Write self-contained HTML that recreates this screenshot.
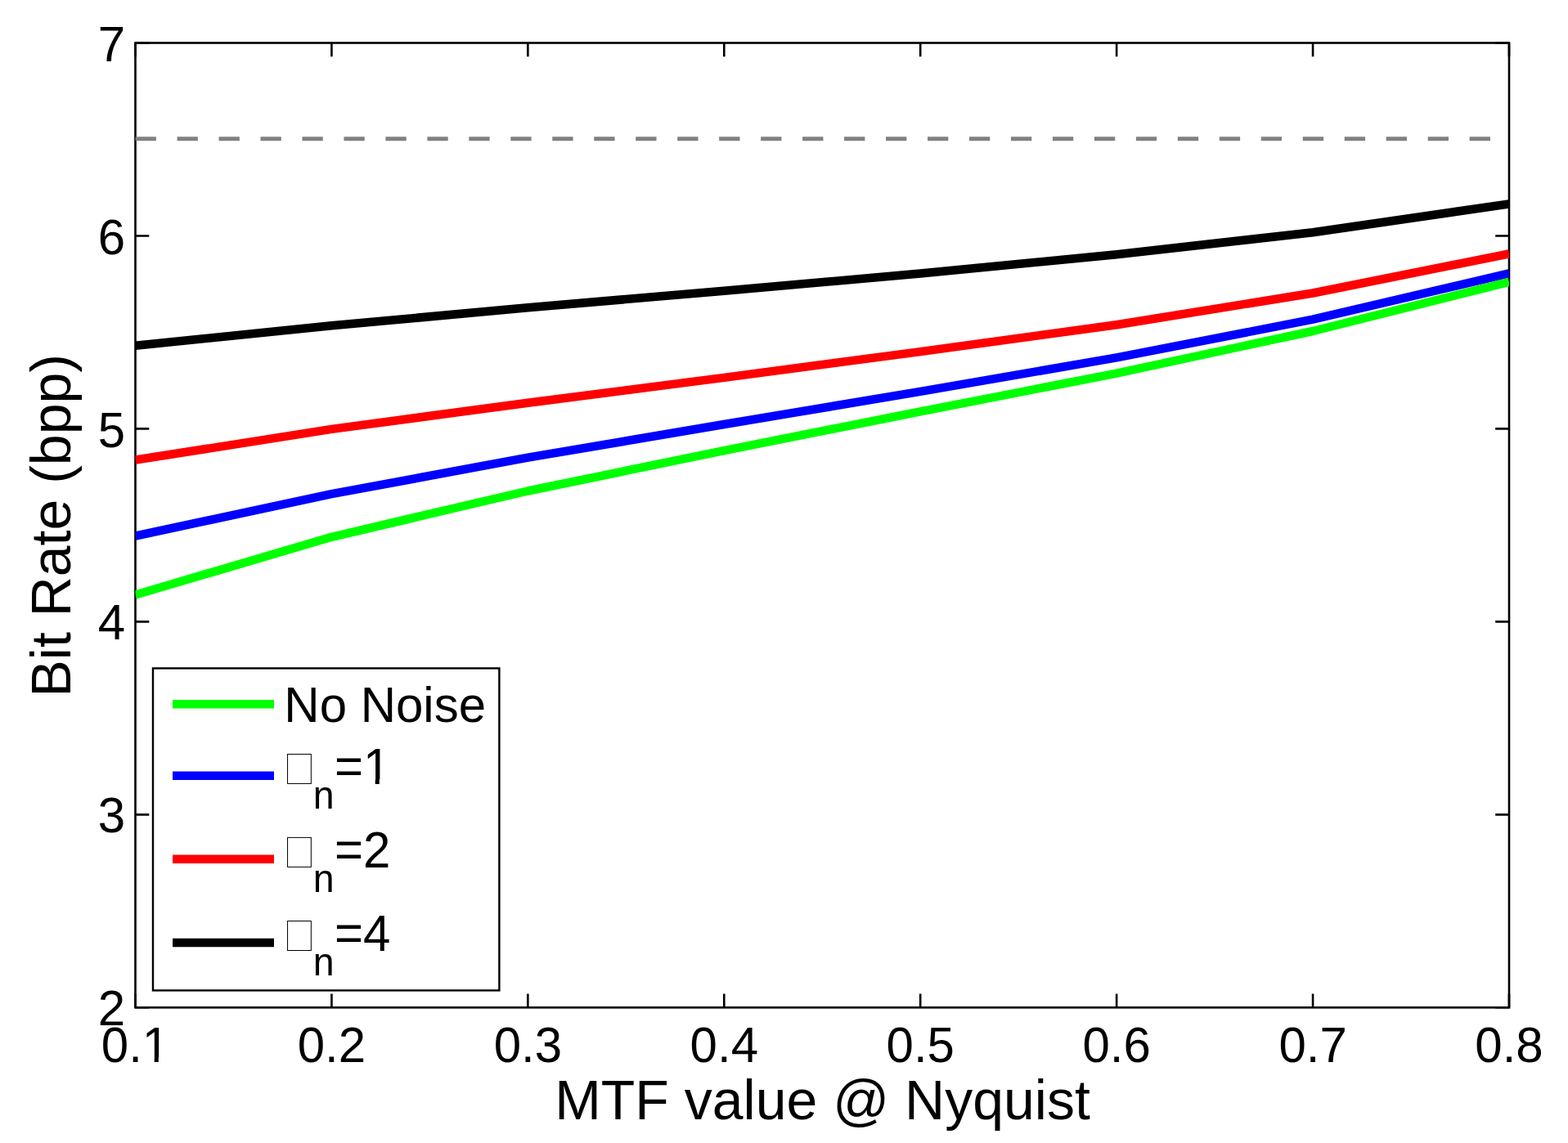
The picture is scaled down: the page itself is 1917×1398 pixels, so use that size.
<!DOCTYPE html>
<html><head><meta charset="utf-8"><title>Bit Rate vs MTF value</title>
<style>
html,body{margin:0;padding:0;background:#fff;}
body{width:1917px;height:1398px;overflow:hidden;}
svg{display:block;}
text{font-family:"Liberation Sans", sans-serif;fill:#000;}
</style></head><body>
<svg width="1917" height="1398" viewBox="0 0 1917 1398">
<rect x="0" y="0" width="1917" height="1398" fill="#fff"/>

<rect x="165.5" y="52.5" width="1679.5" height="1179.8" fill="none" stroke="#000" stroke-width="2.6"/>
<path d="M165.50,1232.3V1215.50M165.50,52.5V69.30M405.43,1232.3V1215.50M405.43,52.5V69.30M645.36,1232.3V1215.50M645.36,52.5V69.30M885.29,1232.3V1215.50M885.29,52.5V69.30M1125.21,1232.3V1215.50M1125.21,52.5V69.30M1365.14,1232.3V1215.50M1365.14,52.5V69.30M1605.07,1232.3V1215.50M1605.07,52.5V69.30M1845.00,1232.3V1215.50M1845.00,52.5V69.30M165.5,1232.30H182.30M1845.0,1232.30H1828.20M165.5,996.34H182.30M1845.0,996.34H1828.20M165.5,760.38H182.30M1845.0,760.38H1828.20M165.5,524.42H182.30M1845.0,524.42H1828.20M165.5,288.46H182.30M1845.0,288.46H1828.20M165.5,52.50H182.30M1845.0,52.50H1828.20" fill="none" stroke="#000" stroke-width="2.6"/>
<line x1="165.6" y1="169.7" x2="1845.0" y2="169.7" stroke="#808080" stroke-width="5" stroke-dasharray="25.3 25.67"/>
<defs><clipPath id="plotbox" clipPathUnits="userSpaceOnUse"><rect x="165.5" y="52.5" width="1679.5" height="1179.8"/></clipPath></defs>
<g clip-path="url(#plotbox)">
<polyline points="165.50,422.70 405.43,398.30 645.36,376.30 885.29,355.70 1125.21,334.60 1365.14,311.30 1605.07,284.20 1845.00,249.40" fill="none" stroke="#000000" stroke-width="10.5" stroke-linejoin="round"/>
<polyline points="165.50,562.60 405.43,524.90 645.36,492.70 885.29,461.90 1125.21,430.10 1365.14,397.30 1605.07,358.50 1845.00,310.40" fill="none" stroke="#ff0000" stroke-width="10.5" stroke-linejoin="round"/>
<polyline points="165.50,655.60 405.43,604.20 645.36,559.70 885.29,519.00 1125.21,478.90 1365.14,437.40 1605.07,390.70 1845.00,334.30" fill="none" stroke="#0000ff" stroke-width="10.5" stroke-linejoin="round"/>
<polyline points="165.50,727.50 405.43,656.80 645.36,600.50 885.29,551.10 1125.21,503.40 1365.14,456.60 1605.07,405.00 1845.00,344.90" fill="none" stroke="#00ff00" stroke-width="10.5" stroke-linejoin="round"/>
</g>
<defs><clipPath id="nofoot1" clipPathUnits="userSpaceOnUse"><path clip-rule="evenodd" d="M0,0H1917V1398H0Z M176,1293.3H188.7V1300.5H176Z M193.8,1293.3H206V1300.5H193.8Z M447,953H458.7V960.5H447Z M463.8,953H476V960.5H463.8Z"/></clipPath></defs>
<g clip-path="url(#nofoot1)"><text transform="translate(165.50,1298.60) scale(1,1.02)" font-size="60" text-anchor="middle">0.1</text></g>
<text transform="translate(405.43,1298.60) scale(1,1.02)" font-size="60" text-anchor="middle">0.2</text>
<text transform="translate(645.36,1298.60) scale(1,1.02)" font-size="60" text-anchor="middle">0.3</text>
<text transform="translate(885.29,1298.60) scale(1,1.02)" font-size="60" text-anchor="middle">0.4</text>
<text transform="translate(1125.21,1298.60) scale(1,1.02)" font-size="60" text-anchor="middle">0.5</text>
<text transform="translate(1365.14,1298.60) scale(1,1.02)" font-size="60" text-anchor="middle">0.6</text>
<text transform="translate(1605.07,1298.60) scale(1,1.02)" font-size="60" text-anchor="middle">0.7</text>
<text transform="translate(1845.00,1298.60) scale(1,1.02)" font-size="60" text-anchor="middle">0.8</text>
<text transform="translate(153.10,1253.50) scale(1,1.02)" font-size="60" text-anchor="end">2</text>
<text transform="translate(153.10,1017.86) scale(1,1.02)" font-size="60" text-anchor="end">3</text>
<text transform="translate(153.10,782.22) scale(1,1.02)" font-size="60" text-anchor="end">4</text>
<text transform="translate(153.10,546.58) scale(1,1.02)" font-size="60" text-anchor="end">5</text>
<text transform="translate(153.10,310.94) scale(1,1.02)" font-size="60" text-anchor="end">6</text>
<text transform="translate(153.10,75.30) scale(1,1.02)" font-size="60" text-anchor="end">7</text>
<text transform="translate(1005.50,1369.40) scale(1,1.005)" font-size="68" text-anchor="middle">MTF value @ Nyquist</text>
<text transform="translate(86.1,642.8) rotate(-90) scale(1,1.005)" font-size="68" text-anchor="middle">Bit Rate (bpp)</text>
<rect x="187" y="817.4" width="423.4" height="394.0" fill="#fff" stroke="#000" stroke-width="2.4"/>
<line x1="211.05" y1="861.3" x2="335.0" y2="861.3" stroke="#00ff00" stroke-width="10.5"/>
<text transform="translate(347.30,883.00) scale(1,1.01)" font-size="60">No Noise</text>
<line x1="211.05" y1="948.8" x2="335.0" y2="948.8" stroke="#0000ff" stroke-width="10.5"/>
<rect x="351.55" y="922.45" width="28.8" height="36" fill="none" stroke="#000" stroke-width="1"/>
<g clip-path="url(#nofoot1)"><text transform="translate(382.8,958.85) scale(1,1.04)" font-size="60"><tspan x="0" y="28.85" font-size="46.5">n</tspan><tspan x="26.1" y="0">=1</tspan></text></g>
<line x1="211.05" y1="1050.8" x2="335.0" y2="1050.8" stroke="#ff0000" stroke-width="10.5"/>
<rect x="351.55" y="1024.40" width="28.8" height="36" fill="none" stroke="#000" stroke-width="1"/>
<text transform="translate(382.8,1060.80) scale(1,1.04)" font-size="60"><tspan x="0" y="28.85" font-size="46.5">n</tspan><tspan x="26.1" y="0">=2</tspan></text>
<line x1="211.05" y1="1152.9" x2="335.0" y2="1152.9" stroke="#000000" stroke-width="10.5"/>
<rect x="351.55" y="1126.50" width="28.8" height="36" fill="none" stroke="#000" stroke-width="1"/>
<text transform="translate(382.8,1162.90) scale(1,1.04)" font-size="60"><tspan x="0" y="28.85" font-size="46.5">n</tspan><tspan x="26.1" y="0">=4</tspan></text>
</svg>
</body></html>
